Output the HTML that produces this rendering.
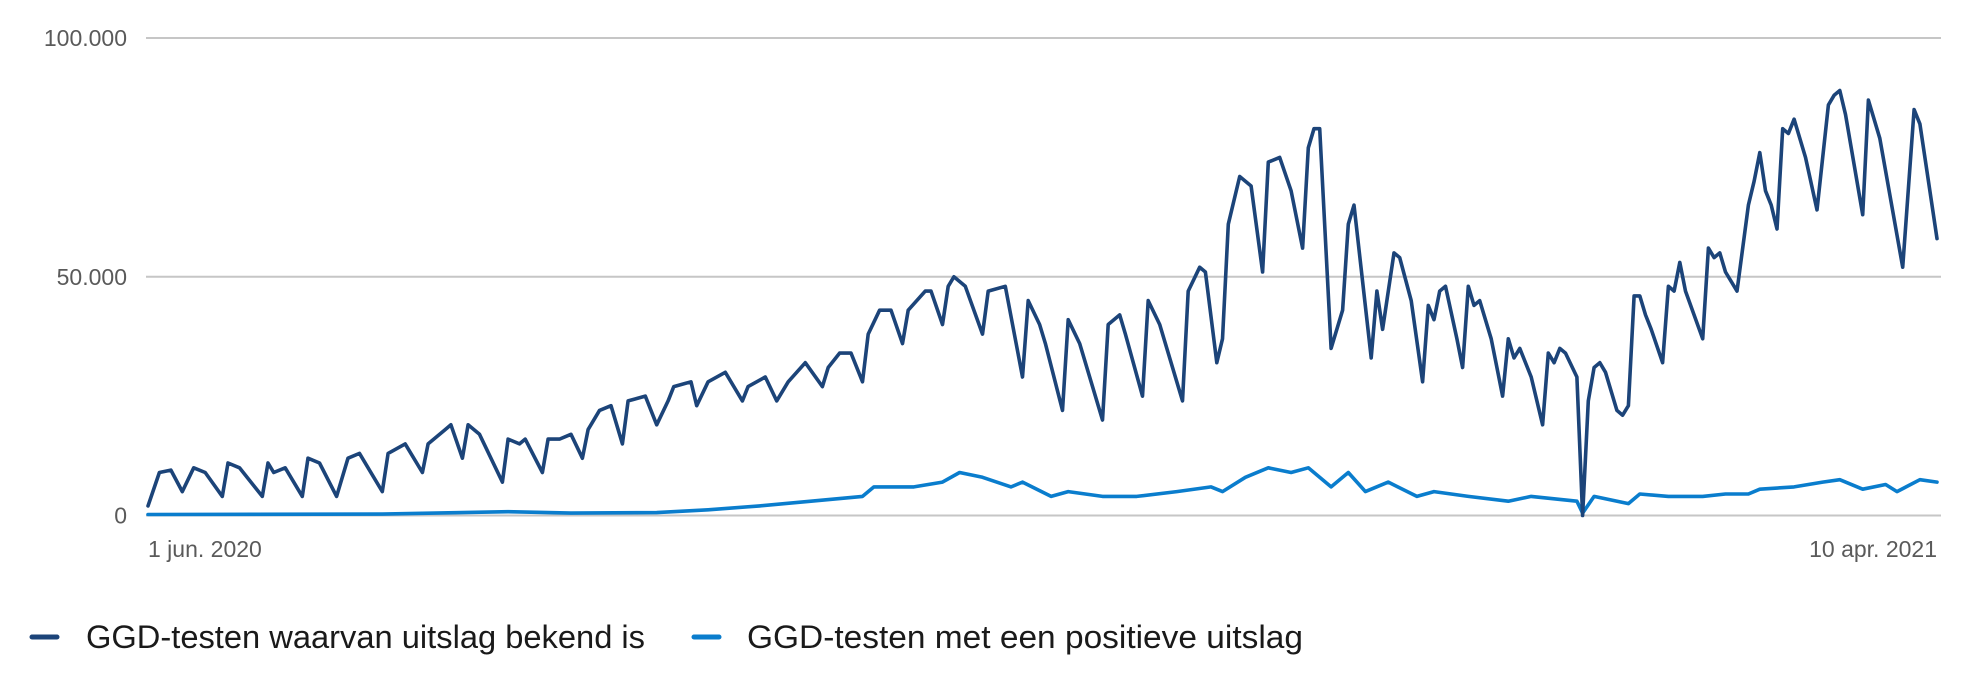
<!DOCTYPE html>
<html><head><meta charset="utf-8"><style>
html,body{margin:0;padding:0;background:#fff;}
svg{display:block;font-family:"Liberation Sans",sans-serif;}
</style></head><body>
<svg id="chart" width="1962" height="686" viewBox="0 0 1962 686">
<g id="grid"></g>
<g id="yaxis"></g>
<g id="xaxis"></g>
<g id="series"></g>
<g>
<g>
<line x1="32" y1="637" x2="57" y2="637" stroke="#1c4479" stroke-width="5" stroke-linecap="round"/>
<text x="86" y="648" font-size="32" fill="#1a1a1a" textLength="559" lengthAdjust="spacingAndGlyphs">GGD-testen waarvan uitslag bekend is</text>
</g>
<g>
<line x1="694" y1="637" x2="719" y2="637" stroke="#0a7dcd" stroke-width="5" stroke-linecap="round"/>
<text x="747" y="648" font-size="32" fill="#1a1a1a" textLength="556" lengthAdjust="spacingAndGlyphs">GGD-testen met een positieve uitslag</text>
</g>
</g>
</svg>
<script>
const yTicks=[0,50000,100000];
const yTickLabels=["0","50.000","100.000"];
const xTickDays=[0,313];
const xTickLabels=["1 jun. 2020","10 apr. 2021"];
const testDays=[0,2,4,6,8,10,13,14,16,20,21,22,24,27,28,30,33,35,37,41,42,45,48,49,52,53,55,56,58,62,63,65,66,69,70,72,74,76,77,79,81,83,84,87,89,91,92,95,96,98,101,104,105,108,110,112,115,118,119,121,123,125,126,128,130,132,133,136,137,139,140,141,143,146,147,150,153,154,156,157,160,161,163,167,168,170,171,174,175,177,181,182,184,185,187,188,189,191,193,195,196,198,200,202,203,204,205,207,209,210,211,214,215,216,218,219,221,223,224,225,226,227,229,230,231,232,233,235,237,238,239,240,242,244,245,246,247,248,250,251,252,253,254,255,257,258,259,260,261,262,263,265,266,267,268,269,272,273,274,275,276,278,280,281,282,283,284,285,286,287,288,290,292,294,295,296,297,300,301,303,307,309,310,311,313];
const testValues=[2,9,9.5,5,10,9,4,11,10,4,11,9,10,4,12,11,4,12,13,5,13,15,9,15,18,19,12,19,17,7,16,15,16,9,16,16,17,12,18,22,23,15,24,25,19,24,27,28,23,28,30,24,27,29,24,28,32,27,31,34,34,28,38,43,43,36,43,47,47,40,48,50,48,38,47,48,29,45,40,36,22,41,36,20,40,42,38,25,45,40,24,47,52,51,32,37,61,71,69,51,74,75,68,56,77,81,81,35,43,61,65,33,47,39,55,54,45,28,44,41,47,48,37,31,48,44,45,37,25,37,33,35,29,19,34,32,35,34,29,0,24,31,32,30,22,21,23,46,46,42,39,32,48,47,53,47,37,56,54,55,51,47,65,70,76,68,65,60,81,80,83,75,64,86,88,89,84,63,87,79,52,85,82,74,58];
const posDays=[0,41,63,74,89,98,107,116,125,127,134,139,142,146,151,153,158,161,167,173,180,186,188,192,196,200,203,207,210,213,217,222,225,231,238,242,250,251,253,259,261,266,272,276,280,282,288,293,296,300,304,306,310,313];
const posValues=[0.2,0.3,0.8,0.5,0.6,1.2,2,3,4,6,6,7,9,8,6,7,4,5,4,4,5,6,5,8,10,9,10,6,9,5,7,4,5,4,3,4,3,0.5,4,2.5,4.5,4,4,4.5,4.5,5.5,6,7,7.5,5.5,6.5,5,7.5,7];
const NS="http://www.w3.org/2000/svg";
const x=d=>148+d*(1937-148)/313;
const y=v=>515.5-v*(515.5-38)/100000;
function mk(tag,attrs,parent){const e=document.createElementNS(NS,tag);for(const k in attrs)e.setAttribute(k,attrs[k]);parent.appendChild(e);return e;}
const grid=document.getElementById('grid'),ya=document.getElementById('yaxis'),xa=document.getElementById('xaxis'),ser=document.getElementById('series');
yTicks.forEach((t,i)=>{
  const l=mk('line',{x1:146,x2:1941,y1:y(t),y2:y(t),stroke:'#c6c6c6','stroke-width':2},grid);
  
  
  const tx=mk('text',{x:127,y:y(t)+8,'text-anchor':'end','font-size':23,fill:'#5a5a5a'},ya);
  tx.textContent=yTickLabels[i];
  
  
});
xTickDays.forEach((d,i)=>{
  const tx=mk('text',{x:x(d),y:557,'text-anchor':i===0?'start':'end','font-size':23,fill:'#5a5a5a'},xa);
  tx.textContent=xTickLabels[i];
  
  
});
function line(days,vals,color,name){
  const pts=days.map((d,i)=>x(d).toFixed(1)+','+y(vals[i]*1000).toFixed(1)).join(' ');
  const p=mk('polyline',{points:pts,fill:'none',stroke:color,'stroke-width':3.6,'stroke-linejoin':'round','stroke-linecap':'round'},ser);
  
  
}
line(posDays,posValues,'#0a7dcd','line-positive-tests');
line(testDays,testValues,'#1c4479','line-tests-with-result');
</script>
</body></html>
